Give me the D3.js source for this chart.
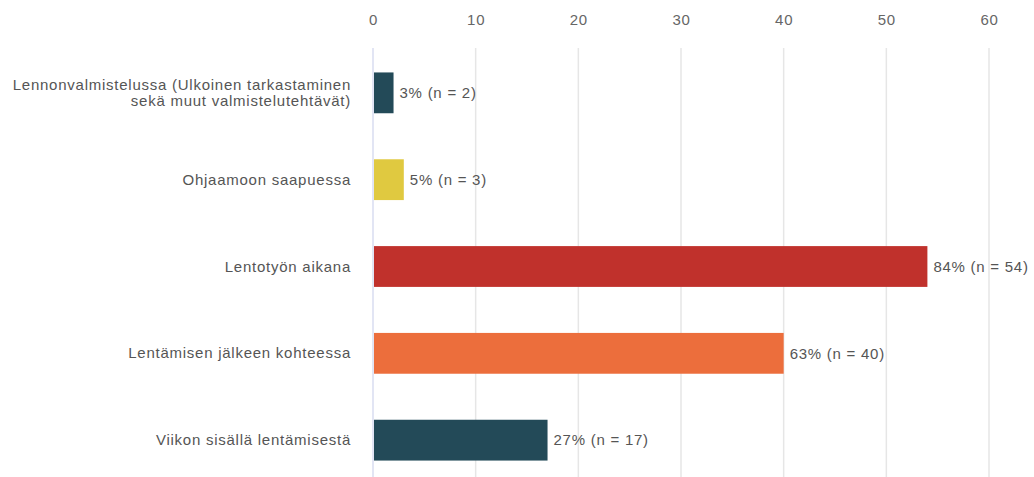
<!DOCTYPE html>
<html>
<head>
<meta charset="utf-8">
<script src="https://cdn.jsdelivr.net/npm/d3@7"></script>
<style>
  html, body { margin: 0; padding: 0; background: #fff; }
  svg { display: block; font-family: "Liberation Sans", Arial, Helvetica, sans-serif; }
  svg text { letter-spacing: 0.75px; }
</style>
</head>
<body>
<svg id="chart" width="1034" height="477"></svg>
<script>
// Vaiheet, joissa oireita esiintyi (vastaajien määrä ja osuus)
const categories = [
  ["Lennonvalmistelussa (Ulkoinen tarkastaminen", "sekä muut valmistelutehtävät)"],
  ["Ohjaamoon saapuessa"],
  ["Lentotyön aikana"],
  ["Lentämisen jälkeen kohteessa"],
  ["Viikon sisällä lentämisestä"]
];
const counts = [2, 3, 54, 40, 17];
const percents = [3, 5, 84, 63, 27];
const colors = ["#234a58", "#e0c940", "#c0312c", "#ec6e3c", "#234a58"];
const tickValues = [0, 10, 20, 30, 40, 50, 60];

const svg = d3.select("#chart");
const width = 1034, height = 477;
const fontSize = 15;

const x = d3.scaleLinear().domain([0, 60]).range([373, 989]);
const y = d3.scaleBand()
  .domain(d3.range(categories.length))
  .range([49, 484])
  .paddingInner(0.53)
  .paddingOuter(0.27);

// Pystysuorat apuviivat
svg.append("g")
  .selectAll("line")
  .data(tickValues.filter(d => d > 0))
  .join("line")
  .attr("x1", d => x(d)).attr("x2", d => x(d))
  .attr("y1", 48).attr("y2", height)
  .attr("stroke", "#e6e6e6")
  .attr("stroke-width", 1.5);

// Nollaviiva
svg.append("line")
  .attr("x1", x(0)).attr("x2", x(0))
  .attr("y1", 48).attr("y2", height)
  .attr("stroke", "#d8dcf0")
  .attr("stroke-width", 1.5);

// Yläakseli
const axis = d3.axisTop(x).tickValues(tickValues).tickSize(0).tickPadding(0);
const gAxis = svg.append("g")
  .attr("transform", "translate(0,25)")
  .call(axis);
gAxis.select(".domain").remove();
gAxis.selectAll("text")
  .attr("fill", "#666")
  .attr("font-size", fontSize)
  .attr("dy", 0)
  .attr("font-family", "'Liberation Sans', Arial, sans-serif");

// Pylväät
svg.append("g")
  .selectAll("rect")
  .data(counts)
  .join("rect")
  .attr("x", x(0) + 1)
  .attr("y", (d, i) => y(i))
  .attr("width", d => x(d) - x(0) - 1)
  .attr("height", y.bandwidth())
  .attr("fill", (d, i) => colors[i]);

// Arvotekstit
svg.append("g")
  .selectAll("text")
  .data(counts)
  .join("text")
  .attr("x", d => x(d) + 6)
  .attr("y", (d, i) => y(i) + y.bandwidth() / 2)
  .attr("dy", "0.35em")
  .attr("fill", "#555")
  .attr("font-size", fontSize)
  .text((d, i) => `${percents[i]}% (n = ${d})`);

// Luokkien nimet
const labels = svg.append("g")
  .selectAll("text")
  .data(categories)
  .join("text")
  .attr("x", 351)
  .attr("y", (d, i) => y(i) + y.bandwidth() / 2)
  .attr("text-anchor", "end")
  .attr("fill", "#555")
  .attr("font-size", fontSize);

labels.each(function(lines) {
  const t = d3.select(this);
  const lh = 16;
  const start = -((lines.length - 1) * lh) / 2;
  lines.forEach((ln, k) => {
    t.append("tspan")
      .attr("x", 351)
      .attr("dy", k === 0 ? (start + 5) : lh)
      .text(ln);
  });
});
</script>
</body>
</html>
